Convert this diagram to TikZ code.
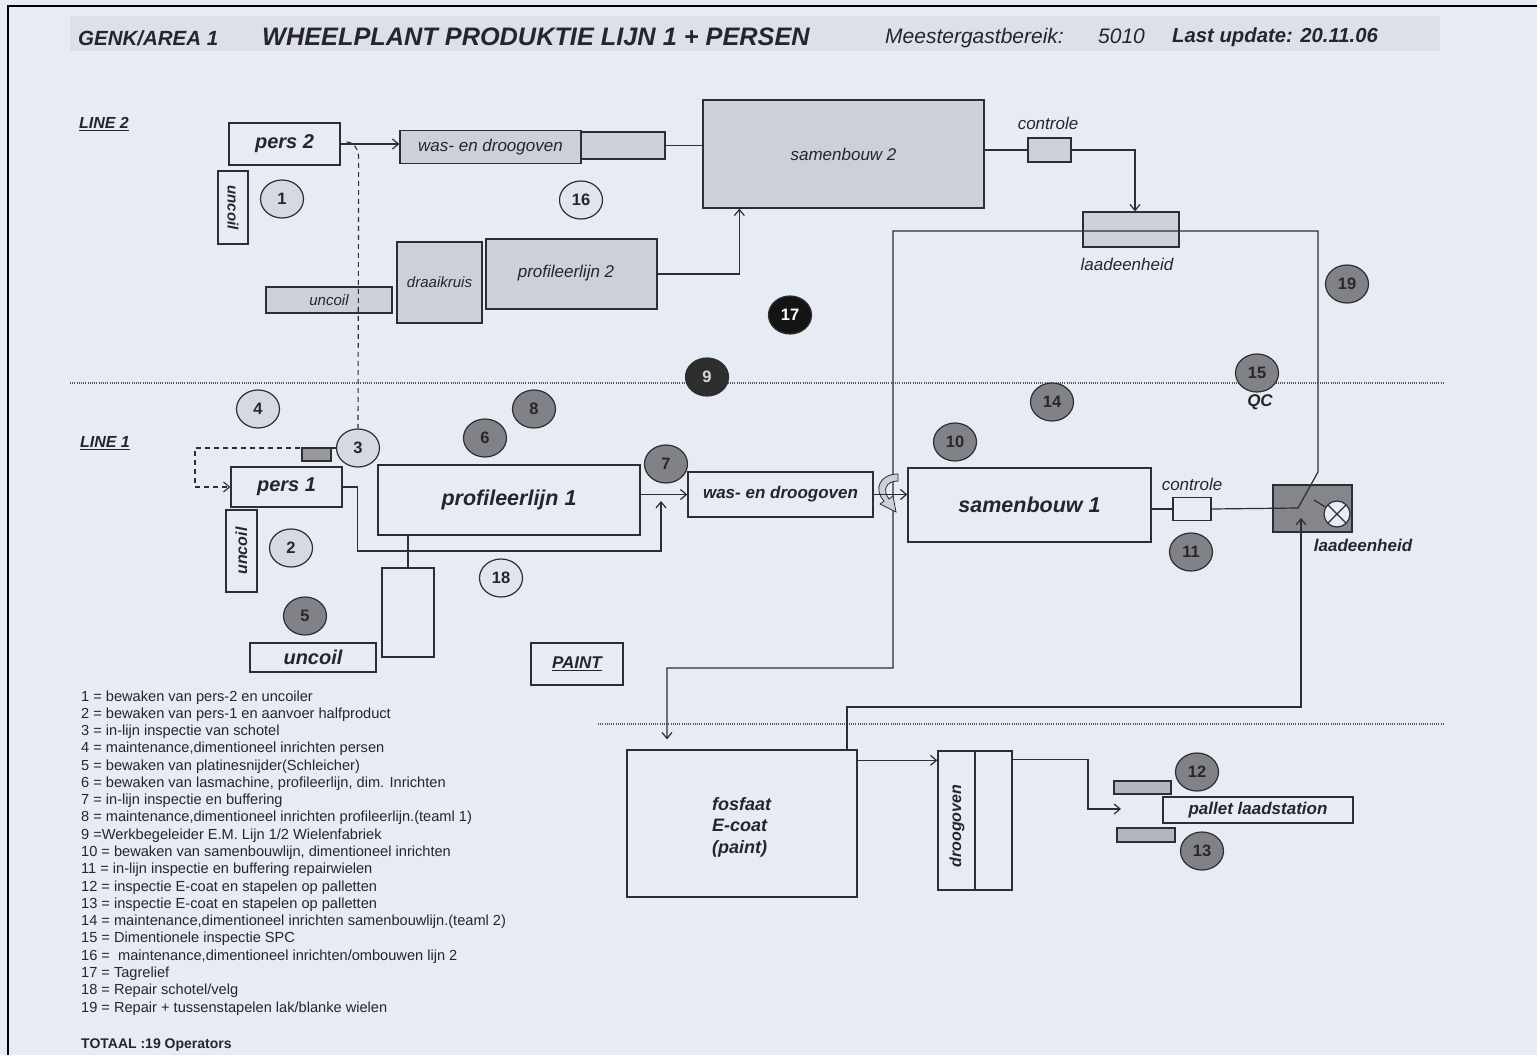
\documentclass[tikz,border=0pt]{standalone}
\usepackage{fontspec}
\setmainfont{Liberation Sans}
\usetikzlibrary{arrows.meta,calc,shapes.geometric}
\definecolor{bgc}{RGB}{231,235,244}
\definecolor{lnc}{RGB}{45,45,50}
\definecolor{txtc}{RGB}{38,38,42}
\definecolor{dotl}{RGB}{205,208,216}
\definecolor{circl}{RGB}{214,217,225}
\definecolor{circw}{RGB}{226,229,237}
\definecolor{circd}{RGB}{128,130,136}
\definecolor{darknum}{RGB}{40,40,44}
\definecolor{ladc}{RGB}{132,134,140}
\definecolor{smc}{RGB}{150,152,158}
\definecolor{palc}{RGB}{178,181,189}
\definecolor{bandc}{RGB}{221,224,232}
\newcommand\fsz[1]{\fontsize{#1}{#1}\selectfont}
\tikzset{
 ln/.style={draw=lnc, line width=1.2pt},
 bx/.style={draw=lnc, line width=1.3pt, inner sep=0pt, text=txtc},
 lbx/.style={bx, fill=dotl},
 cl/.style={ellipse, draw=lnc, line width=1.2pt, minimum width=43pt, minimum height=38pt, inner sep=0pt, font=\fsz{16.5}\bfseries, text=txtc, fill=circl},
 cw/.style={cl, fill=circw},
 cd/.style={cl, fill=circd, text=darknum},
 cb/.style={cl, fill=black!92, text=white},
 arr/.style={-{Straight Barb[length=6pt,width=10pt]}},
 ital/.style={font=\fsz{17}\itshape, text=txtc},
 bital/.style={font=\fsz{17}\bfseries\itshape, text=txtc},
 dashln/.style={draw=lnc, line width=1.1pt, dash pattern=on 5pt off 4pt},
 dotln/.style={draw=lnc!80, line width=1.6pt, dash pattern=on 1pt off 1.2pt},
 txt/.style={inner sep=0pt, text=txtc}
}
\begin{document}
\begin{tikzpicture}[x=1pt,y=-1pt]
\useasboundingbox (0,0) rectangle (1537,1055);
\fill[bgc] (0,0) rectangle (1537,1055);
\draw[black, line width=2pt] (8,1055) -- (8,6) -- (1537,6);
% header
\fill[bandc] (70,16) rectangle (1440,51);
\node[txt, anchor=base west, font=\fsz{20.5}\bfseries\itshape] (hgenk) at (78,45) {GENK/AREA 1};
\node[txt, anchor=base west, font=\fsz{25.3}\bfseries\itshape] (htitle) at (262,45) {WHEELPLANT PRODUKTIE LIJN 1 + PERSEN};
\node[txt, anchor=base west, font=\fsz{21}\itshape] (hmeester) at (885,43) {Meestergastbereik:};
\node[txt, anchor=base west, font=\fsz{21}\itshape] (hnum) at (1098,43) {5010};
\node[txt, anchor=base west, font=\fsz{20.3}\bfseries\itshape] (hupd) at (1172,42) {Last update: 20.11.06};
% line labels
\node[txt, font=\fsz{16}\bfseries\itshape] (line2) at (104,124) {\underline{LINE 2}};
\node[txt, font=\fsz{16}\bfseries\itshape] (line1) at (105,443) {\underline{LINE 1}};
% dotted separators
\draw[dotln] (70,383) -- (1443,383);
\draw[dotln] (598,724) -- (1445,724);

% ---------- LINE 2 ----------
\node[bx, minimum width=111pt, minimum height=42pt, font=\fsz{20}\bfseries\itshape] (pers2) at (284.5,144) {pers 2};
\node[bx, minimum width=73pt, minimum height=30pt, rotate=-90, font=\fsz{15}\bfseries\itshape] (unc2v) at (233,207.5) {uncoil};
\node[cl] (c1) at (282,199) {1};
\node[lbx, minimum width=181pt, minimum height=33pt, ital] (was2) at (490.5,147) {was- en droogoven\hspace{8pt}};
\node[lbx, minimum width=84pt, minimum height=27pt] (was2x) at (623,145.5) {};
\node[lbx, minimum width=281pt, minimum height=108pt, ital] (sam2) at (843.5,154) {samenbouw 2};
\node[cw] (c16) at (581,200) {16};
\node[txt, ital] (ctl2lbl) at (1048,123) {controle};
\node[lbx, minimum width=43pt, minimum height=24pt] (ctl2) at (1049.5,150) {};
\node[lbx, minimum width=96pt, minimum height=35pt] (lad2) at (1131,229.5) {};
\node[txt, ital] (lad2lbl) at (1127,264) {laadeenheid};
\node[lbx, minimum width=85pt, minimum height=81pt, font=\fsz{15}\itshape] (draai) at (439.5,282.5) {draaikruis};
\node[lbx, minimum width=171pt, minimum height=70pt] (prof2) at (571.5,274) {};
\node[txt, ital] (prof2lbl) at (566,273) {profileerlijn 2};
\node[lbx, minimum width=126pt, minimum height=26pt, font=\fsz{15}\itshape] (unc2h) at (329,300) {uncoil};

\draw[ln, arr] (pers2.east) -- (pers2.east -| was2.west);
\draw[ln] (was2x.east) -- (was2x.east -| sam2.west);
\draw[ln, arr] (prof2.east) -| ($(sam2.south west)+(37,0)$);
\draw[ln] (sam2.east |- ctl2.west) -- (ctl2.west);
\draw[ln, arr] (ctl2.east) -| ($(lad2.north)+(4,0)$);

% ---------- circles in the middle ----------
\node[cb] (c17) at (790,315) {17};
\node[cl, fill=black!82, text=white!85!black] (c9) at (707,377) {9};
\node[cd] (c14) at (1052,402) {14};
\node[cd] (c15) at (1257,373) {15};
\node[txt, font=\fsz{17}\bfseries\itshape] (qc) at (1260,402) {QC};
\node[cd] (c19) at (1347,284) {19};

% ---------- LINE 1 ----------
\node[cl] (c4) at (258,409) {4};
\node[cl] (c3) at (358,448) {3};
\draw[dashln] ($(pers2.east)+(6,-2)$) to[out=0,in=90] ($(pers2.east)+(18,14)$) -- (c3.north);
\node[bx, fill=smc, minimum width=29pt, minimum height=13pt] (sm3) at (316.5,454.5) {};
\coordinate (dk) at (195,448);
\node[bx, minimum width=111pt, minimum height=40pt, font=\fsz{20}\bfseries\itshape] (pers1) at (286.5,487) {pers 1};
\draw[dashln, arr] (c3.west) -- (dk) |- (pers1.west);
\node[bx, minimum width=82pt, minimum height=31pt, rotate=90, font=\fsz{16}\bfseries\itshape] (unc1v) at (241.5,551) {uncoil};
\node[cl] (c2) at (291,548) {2};
\node[cd] (c5) at (305,616) {5};
\node[bx, minimum width=126pt, minimum height=29pt, font=\fsz{20}\bfseries\itshape] (unc1h) at (313,657.5) {uncoil};
\node[bx, minimum width=262pt, minimum height=70pt, font=\fsz{21.5}\bfseries\itshape] (prof1) at (509,500) {profileerlijn 1};
\node[bx, minimum width=52pt, minimum height=89pt] (sq) at (408,612.5) {};
\draw[ln] (sq.north) -- (sq.north |- prof1.south);
\coordinate (j18) at (661,551);
\draw[ln, arr] (pers1.east) -- ++(15,0) |- (j18) -- ++(0,-50);
\node[cd] (c6) at (485,438) {6};
\node[cd] (c8) at (534,409) {8};
\node[cw] (c18) at (501,578) {18};
\node[cd] (c7) at (666,464) {7};
\node[bx, minimum width=185pt, minimum height=45pt, bital] (was1) at (780.5,494.5) {was- en droogoven};
\draw[ln, arr] (was1.west -| prof1.east) -- (was1.west);
\node[bx, minimum width=243pt, minimum height=74pt, font=\fsz{21.5}\bfseries\itshape] (sam1) at (1029.5,505) {samenbouw 1};
\node[cd] (c10) at (955,442) {10};
\node[txt, ital] (ctl1lbl) at (1192,484) {controle};
\node[bx, minimum width=38pt, minimum height=23pt] (ctl1) at (1192,509) {};
\node[cd] (c11) at (1191,552) {11};
\node[bx, fill=ladc, minimum width=79pt, minimum height=47pt] (lad1) at (1312.5,508.5) {};
\node[circle, draw=lnc, line width=1.2pt, fill=bgc, minimum size=26pt, inner sep=0pt] (ladx) at (1337,514) {};
\draw[ln] ($(ladx.center)+(-9,-9)$) -- ($(ladx.center)+(9,9)$);
\draw[ln] ($(ladx.center)+(-9,9)$) -- ($(ladx.center)+(9,-9)$);
\coordinate (ladtick) at (1314,500);
\draw[ln] (ladtick) -- (ladx);
\node[txt, font=\fsz{17}\bfseries\itshape] (lad1lbl) at (1363,545) {laadeenheid};

% big loop
\coordinate (A) at (893,231);
\coordinate (B) at (1318,231);
\coordinate (C) at (1318,472);
\coordinate (D) at (1298,508);
\coordinate (E) at (893,668);
\coordinate (F) at (667,668);
\draw[ln] (sam1.east |- ctl1.west) -- (ctl1.west);

% PAINT
\node[bx, minimum width=92pt, minimum height=42pt, font=\fsz{17}\bfseries\itshape] (paint) at (577,664) {\underline{PAINT}};

% paint section
\node[bx, minimum width=230pt, minimum height=147pt] (fos) at (742,823.5) {};
\node[txt, anchor=west, align=left, font=\fontsize{18}{21.5}\selectfont\bfseries\itshape] (fostxt) at (712,827) {fosfaat\\E-coat\\(paint)};
\draw[ln, arr] (ctl1.east) -- (D) -- (C) -- (B) -- (A) -- (E) -- (F) -- ($(F |- fos.north)+(0,-10)$);
\node[bx, minimum width=74pt, minimum height=139pt] (droog) at (975,820.5) {};
\draw[ln] (droog.north) -- (droog.south);
\node[txt, rotate=90, font=\fsz{16}\bfseries\itshape] (droogtxt) at (957,826) {droogoven};
\draw[ln, arr] ($(fos.north east)+(0,11)$) -- ($(droog.north west)+(0,10)$);
\node[bx, minimum width=190pt, minimum height=26pt, font=\fsz{17}\bfseries\itshape] (pal) at (1258,810) {pallet laadstation};
\coordinate (pj) at (1088,809);
\draw[ln, arr] ($(droog.north east)+(0,9)$) -| (pj) -- ++(33,0);
\node[bx, fill=palc, minimum width=57pt, minimum height=13pt] (pb1) at (1142.5,787.5) {};
\node[cd] (c12) at (1197,772) {12};
\node[bx, fill=palc, minimum width=58pt, minimum height=14pt] (pb2) at (1146,835) {};
\node[cd] (c13) at (1202,851) {13};
\coordinate (G) at (847,707);
\coordinate (H) at (1301,707);
\coordinate (Hend) at (1301,518);
\draw[ln, arr] (fos.north -| G) -- (G) -- (H) -- (Hend);

% curved arrow symbol
\filldraw[draw=lnc, fill=dotl, line width=0.8pt] (898,474) .. controls (880,474) and (873,489) .. (884,501) -- (880,504) -- (896,512) -- (893,496) -- (889,499) .. controls (882,490) and (886,481) .. (898,481) -- cycle;
\draw[ln, arr] (was1.east) -- (was1.east -| sam1.west);

% legend
\foreach \t [count=\i] in {
{1 = bewaken van pers-2 en uncoiler},
{2 = bewaken van pers-1 en aanvoer halfproduct},
{3 = in-lijn inspectie van schotel},
{4 = maintenance,dimentioneel inrichten persen},
{5 = bewaken van platinesnijder(Schleicher)},
{6 = bewaken van lasmachine, profileerlijn, dim. Inrichten},
{7 = in-lijn inspectie en buffering},
{8 = maintenance,dimentioneel inrichten profileerlijn.(teaml 1)},
{9 =Werkbegeleider E.M. Lijn 1/2 Wielenfabriek},
{10 = bewaken van samenbouwlijn, dimentioneel inrichten},
{11 = in-lijn inspectie en buffering repairwielen},
{12 = inspectie E-coat en stapelen op palletten},
{13 = inspectie E-coat en stapelen op palletten},
{14 = maintenance,dimentioneel inrichten samenbouwlijn.(teaml 2)},
{15 = Dimentionele inspectie SPC},
{16 =\ \ maintenance,dimentioneel inrichten/ombouwen lijn 2},
{17 = Tagrelief},
{18 = Repair schotel/velg},
{19 = Repair + tussenstapelen lak/blanke wielen}}
{\node[txt, anchor=base west, font=\fsz{14.6}] (leg\i) at (81,{701+(\i-1)*17.28}) {\t};}
\node[txt, anchor=base west, font=\fsz{14}\bfseries] (total) at (81,1048) {TOTAAL :19 Operators};
\end{tikzpicture}
\end{document}
